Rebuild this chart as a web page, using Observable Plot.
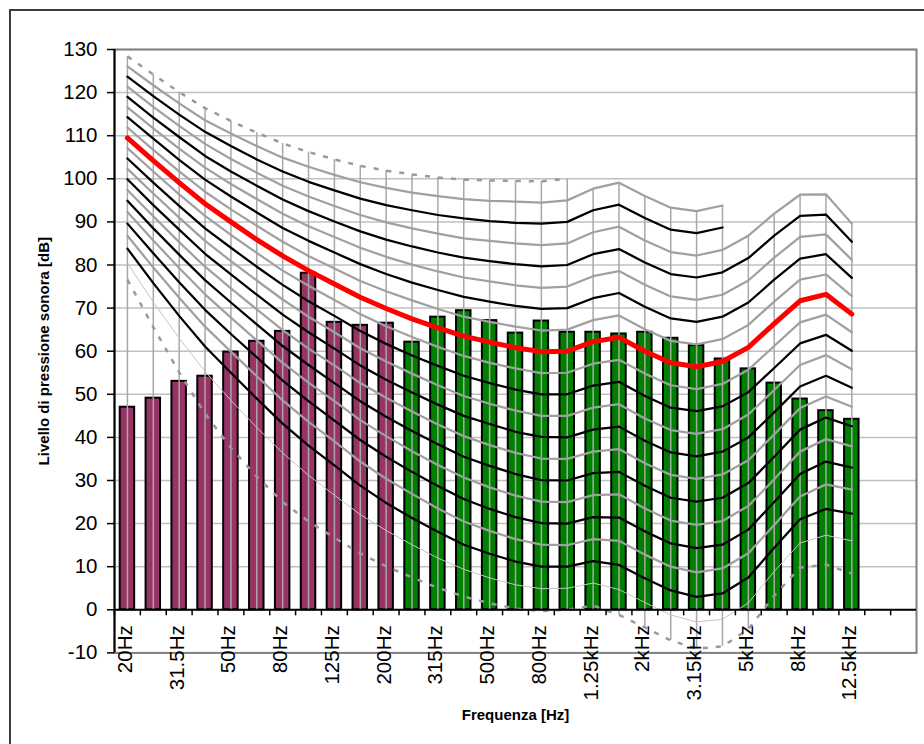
<!DOCTYPE html>
<html>
<head>
<meta charset="utf-8">
<script src="https://cdn.jsdelivr.net/npm/d3@7"></script>
<script src="https://cdn.jsdelivr.net/npm/@observablehq/plot@0.6"></script>
<style>
  html, body { margin: 0; padding: 0; background: #fff; overflow: hidden; }
  #chart { position: relative; width: 924px; height: 744px; }
  #chart svg { position: absolute; left: 0; top: 0; }
  #border { position: absolute; z-index: 2; left: 9px; top: 9px; width: 940px; height: 760px;
            border: 2px solid #3a3a3a; box-sizing: border-box; pointer-events: none; }
</style>
</head>
<body>
<div id="chart"><div id="border"></div></div>
<script>
// Third-octave bands (the last two slots are left empty on the axis)
const categories = ["20Hz","25Hz","31.5Hz","40Hz","50Hz","63Hz","80Hz","100Hz","125Hz","160Hz","200Hz",
  "250Hz","315Hz","400Hz","500Hz","630Hz","800Hz","1kHz","1.25kHz","1.6kHz","2kHz","2.5kHz","3.15kHz",
  "4kHz","5kHz","6.3kHz","8kHz","10kHz","12.5kHz","16kHz","20kHz"];
const tickLabels = ["20Hz","31.5Hz","50Hz","80Hz","125Hz","200Hz","315Hz","500Hz","800Hz","1.25kHz",
  "2kHz","3.15kHz","5kHz","8kHz","12.5kHz"];
const yTicks = [-10, 0, 10, 20, 30, 40, 50, 60, 70, 80, 90, 100, 110, 120, 130];
const yDomain = [-10, 130];

// Measured band levels [dB]; the first 11 bands (20–200 Hz) are drawn in purple
const barValues = [47.0, 49.1, 53.0, 54.2, 59.8, 62.3, 64.6, 78.1, 66.7, 66.0, 66.5,
  62.1, 67.9, 69.4, 67.1, 64.2, 67.0, 64.4, 64.4, 64.0, 64.4, 63.0, 61.3, 58.2, 55.9, 52.6, 48.9, 46.2, 44.2];
const lowBandCount = 11;

// Equal-loudness contours [dB SPL], one array per loudness level (phon)
const phon0 = [76.6, 65.6, 55.1, 45.5, 37.6, 30.9, 25.0, 20.5, 16.7, 13.1, 10.1, 7.5, 5.1, 3.1, 1.5, 0.3, -0.3, 0.0, 1.0, -1.2, -4.1, -7.1, -9.0, -8.5, -4.5, 3.3, 9.8, 10.5, 8.4];
const phon5 = [80.4, 71.4, 63.0, 55.3, 48.6, 42.3, 36.4, 31.2, 26.6, 22.1, 18.4, 15.1, 12.0, 9.4, 7.4, 5.8, 4.9, 5.0, 6.2, 4.7, 1.7, -1.2, -2.8, -2.2, 1.6, 8.9, 15.5, 17.3, 16.0];
const phon10 = [83.8, 75.8, 68.2, 61.1, 55.0, 49.0, 43.2, 38.1, 33.5, 28.8, 24.8, 21.3, 18.1, 15.1, 13.0, 11.2, 10.0, 10.0, 11.3, 10.4, 7.3, 4.5, 3.0, 3.8, 7.5, 14.4, 21.0, 23.4, 22.3];
const phon15 = [86.8, 79.4, 72.4, 65.7, 59.9, 54.2, 48.6, 43.6, 39.1, 34.4, 30.4, 26.9, 23.5, 20.5, 18.3, 16.4, 15.1, 15.0, 16.4, 16.0, 12.8, 10.0, 8.7, 9.6, 13.1, 19.7, 26.3, 29.1, 27.9];
const phon20 = [89.6, 82.7, 76.0, 69.6, 64.0, 58.6, 53.2, 48.4, 43.9, 39.4, 35.5, 32.0, 28.7, 25.7, 23.4, 21.5, 20.1, 20.0, 21.5, 21.4, 18.2, 15.4, 14.3, 15.1, 18.6, 25.0, 31.5, 34.4, 33.0];
const phon25 = [92.3, 85.7, 79.3, 73.2, 67.8, 62.5, 57.3, 52.7, 48.4, 44.0, 40.3, 36.8, 33.6, 30.7, 28.4, 26.5, 25.1, 25.0, 26.6, 26.8, 23.5, 20.7, 19.7, 20.6, 24.1, 30.3, 36.7, 39.6, 37.9];
const phon30 = [94.9, 88.5, 82.4, 76.5, 71.3, 66.2, 61.2, 56.8, 52.6, 48.4, 44.8, 41.5, 38.4, 35.5, 33.4, 31.5, 30.1, 30.0, 31.7, 32.0, 28.8, 26.0, 25.1, 26.0, 29.4, 35.5, 41.8, 44.6, 42.6];
const phon35 = [97.4, 91.3, 85.3, 79.6, 74.6, 69.7, 64.9, 60.6, 56.7, 52.6, 49.2, 46.0, 43.0, 40.3, 38.2, 36.4, 35.1, 35.0, 36.7, 37.3, 34.0, 31.3, 30.4, 31.4, 34.7, 40.7, 46.8, 49.5, 47.1];
const phon40 = [99.9, 93.9, 88.2, 82.6, 77.8, 73.1, 68.5, 64.4, 60.6, 56.7, 53.4, 50.4, 47.6, 45.0, 43.1, 41.3, 40.1, 40.0, 41.8, 42.5, 39.2, 36.5, 35.6, 36.7, 40.0, 45.8, 51.8, 54.3, 51.5];
const phon45 = [102.3, 96.6, 91.0, 85.6, 80.9, 76.4, 72.0, 68.0, 64.4, 60.7, 57.6, 54.8, 52.1, 49.6, 47.8, 46.2, 45.0, 45.0, 46.9, 47.7, 44.4, 41.7, 40.8, 41.9, 45.3, 51.0, 56.8, 59.1, 55.8];
const phon50 = [104.7, 99.1, 93.7, 88.5, 84.0, 79.6, 75.4, 71.6, 68.2, 64.7, 61.7, 59.0, 56.6, 54.3, 52.6, 51.1, 50.0, 50.0, 52.0, 52.9, 49.6, 46.9, 46.1, 47.2, 50.5, 56.1, 61.8, 63.8, 60.1];
const phon55 = [107.1, 101.7, 96.4, 91.4, 87.0, 82.8, 78.7, 75.2, 71.9, 68.6, 65.8, 63.3, 61.0, 58.9, 57.3, 56.0, 54.9, 55.0, 57.1, 58.0, 54.8, 52.1, 51.2, 52.4, 55.7, 61.2, 66.7, 68.5, 64.4];
const phon60 = [109.5, 104.2, 99.1, 94.2, 90.0, 85.9, 82.1, 78.7, 75.6, 72.5, 69.9, 67.5, 65.4, 63.5, 62.1, 60.8, 59.9, 60.0, 62.2, 63.2, 60.0, 57.3, 56.4, 57.6, 60.9, 66.4, 71.7, 73.2, 68.6];
const phon65 = [111.9, 106.7, 101.7, 97.0, 92.9, 89.1, 85.4, 82.1, 79.2, 76.3, 73.9, 71.8, 69.8, 68.0, 66.8, 65.7, 64.8, 65.0, 67.2, 68.3, 65.1, 62.4, 61.6, 62.8, 66.1, 71.5, 76.6, 77.8, 72.8];
const phon70 = [114.3, 109.3, 104.4, 99.8, 95.9, 92.2, 88.6, 85.6, 82.9, 80.2, 77.9, 75.9, 74.2, 72.6, 71.5, 70.5, 69.8, 70.0, 72.3, 73.5, 70.3, 67.6, 66.8, 68.0, 71.3, 76.6, 81.5, 82.5, 77.0];
const phon75 = [116.6, 111.7, 107.0, 102.6, 98.8, 95.3, 91.9, 89.0, 86.5, 84.0, 81.9, 80.1, 78.5, 77.1, 76.2, 75.3, 74.7, 75.0, 77.4, 78.6, 75.4, 72.7, 71.9, 73.1, 76.4, 81.7, 86.5, 87.1, 81.2];
const phon80 = [119.0, 114.2, 109.7, 105.3, 101.7, 98.4, 95.2, 92.5, 90.1, 87.8, 85.9, 84.3, 82.9, 81.7, 80.9, 80.2, 79.7, 80.0, 82.5, 83.7, 80.6, 77.9, 77.1, 78.3, 81.6, 86.8, 91.4, 91.7, 85.4];
const phon85 = [121.4, 116.7, 112.3, 108.1, 104.6, 101.4, 98.4, 95.9, 93.7, 91.6, 89.9, 88.5, 87.3, 86.2, 85.6, 85.0, 84.6, 85.0, 87.6, 88.9, 85.7, 83.0, 82.2, 83.5, 86.8, 91.9, 96.3, 96.4, 89.6];
const phon90 = [123.7, 119.2, 114.9, 110.9, 107.6, 104.5, 101.7, 99.3, 97.3, 95.4, 93.9, 92.7, 91.6, 90.8, 90.2, 89.8, 89.6, 90.0, 92.7, 94.0, 90.9, 88.2, 87.4, 88.7];
const phon95 = [126.1, 121.7, 117.5, 113.6, 110.5, 107.6, 104.9, 102.8, 100.9, 99.2, 97.9, 96.8, 96.0, 95.3, 94.9, 94.7, 94.5, 95.0, 97.7, 99.1, 96.0, 93.3, 92.5, 93.8];
const phon100 = [128.4, 124.2, 120.1, 116.4, 113.4, 110.7, 108.2, 106.2, 104.5, 103.0, 101.9, 101.0, 100.3, 99.8, 99.6, 99.5, 99.4, 100.0];

const contours = [
  {values: phon0, kind: "dashed"}, {values: phon5, kind: "thin"},
  {values: phon10, kind: "black"}, {values: phon15, kind: "gray"},
  {values: phon20, kind: "black"}, {values: phon25, kind: "gray"},
  {values: phon30, kind: "black"}, {values: phon35, kind: "gray"},
  {values: phon40, kind: "black"}, {values: phon45, kind: "gray"},
  {values: phon50, kind: "black"}, {values: phon55, kind: "gray"},
  {values: phon65, kind: "gray"}, {values: phon70, kind: "black"},
  {values: phon75, kind: "gray"}, {values: phon80, kind: "black"},
  {values: phon85, kind: "gray"}, {values: phon90, kind: "black"},
  {values: phon95, kind: "gray"}, {values: phon100, kind: "dashed"},
  {values: phon60, kind: "red"}
];

const lineStyles = {
  dashed: {stroke: "#9a9a9a", strokeWidth: 2.5, strokeDasharray: "5,8", strokeLinecap: "butt"},
  thin:   {stroke: "#c4c4c4", strokeWidth: 1},
  gray:   {stroke: "#a0a0a0", strokeWidth: 2.25},
  black:  {stroke: "#000000", strokeWidth: 2.25},
  red:    {stroke: "#ff0000", strokeWidth: 5}
};

const W = 924, H = 744;
const M = {left: 114, right: 8, top: 49, bottom: 91.6};
const plotW = W - M.left - M.right;
const bw = plotW / categories.length;

const bars = barValues.map((v, i) => ({cat: categories[i], value: v}));
const points = (c) => c.values.map((v, i) => ({cat: categories[i], value: v}));

// Drop lines: from the axis (0 dB) to the extreme contour points of each band
const drops = barValues.map((_, i) => {
  const vals = contours.map(c => c.values[i]).filter(v => v != null);
  return {cat: categories[i], lo: Math.min(0, d3.min(vals)), hi: Math.max(0, d3.max(vals))};
});

const chart = Plot.plot({
  width: W, height: H,
  marginLeft: M.left, marginRight: M.right, marginTop: M.top, marginBottom: M.bottom,
  x: {type: "band", domain: categories, padding: 0, round: false, axis: null},
  y: {domain: yDomain, axis: null},
  style: {fontFamily: "'Liberation Sans', Arial, sans-serif", fontSize: "20px", color: "#000", background: "#fff", overflow: "visible"},
  marks: [
    Plot.ruleY(yTicks, {stroke: "#c0c0c0", strokeWidth: 1.5}),
    Plot.barY(bars.slice(0, lowBandCount), {x: "cat", y: "value", fill: "#993366", stroke: "#000", strokeWidth: 2, insetLeft: 5.7, insetRight: 5.7}),
    Plot.barY(bars.slice(lowBandCount), {x: "cat", y: "value", fill: "#008000", stroke: "#000", strokeWidth: 2, insetLeft: 5.7, insetRight: 5.7}),
    Plot.ruleX(drops, {x: "cat", y1: "lo", y2: "hi", stroke: "#a8a8a8", strokeWidth: 1.5}),
    ...contours.map(c => Plot.line(points(c), {x: "cat", y: "value", ...lineStyles[c.kind]})),
    Plot.frame({stroke: "#808080", strokeWidth: 2}),
    Plot.ruleY([0], {stroke: "#000", strokeWidth: 2}),
    Plot.ruleX([categories[0]], {y1: yDomain[0], y2: yDomain[1], dx: -bw / 2, stroke: "#000", strokeWidth: 2}),
    Plot.ruleY(yTicks, {insetLeft: -7, insetRight: plotW, stroke: "#000", strokeWidth: 1.5}),
    Plot.ruleX(categories, {y1: 0, y2: -1.4, dx: -bw / 2, stroke: "#000", strokeWidth: 1.5}),
    Plot.text(yTicks, {y: d => d, text: d => String(d), frameAnchor: "left", dx: -17, textAnchor: "end", fontSize: 20.5}),
    Plot.text(tickLabels, {x: d => d, y: 0, text: d => d, rotate: -90, textAnchor: "end", dy: 15.5, dx: -2, fontSize: 20.5}),
    Plot.text(["Livello di pressione sonora [dB]"], {frameAnchor: "left", dx: -70, rotate: -90, text: d => d,
      textAnchor: "middle", lineAnchor: "middle", fontWeight: "bold", fontSize: 15}),
    Plot.text(["Frequenza [Hz]"], {frameAnchor: "bottom", dy: 62, text: d => d,
      textAnchor: "middle", lineAnchor: "middle", fontWeight: "bold", fontSize: 15})
  ]
});
document.getElementById("chart").appendChild(chart);
</script>
</body>
</html>
